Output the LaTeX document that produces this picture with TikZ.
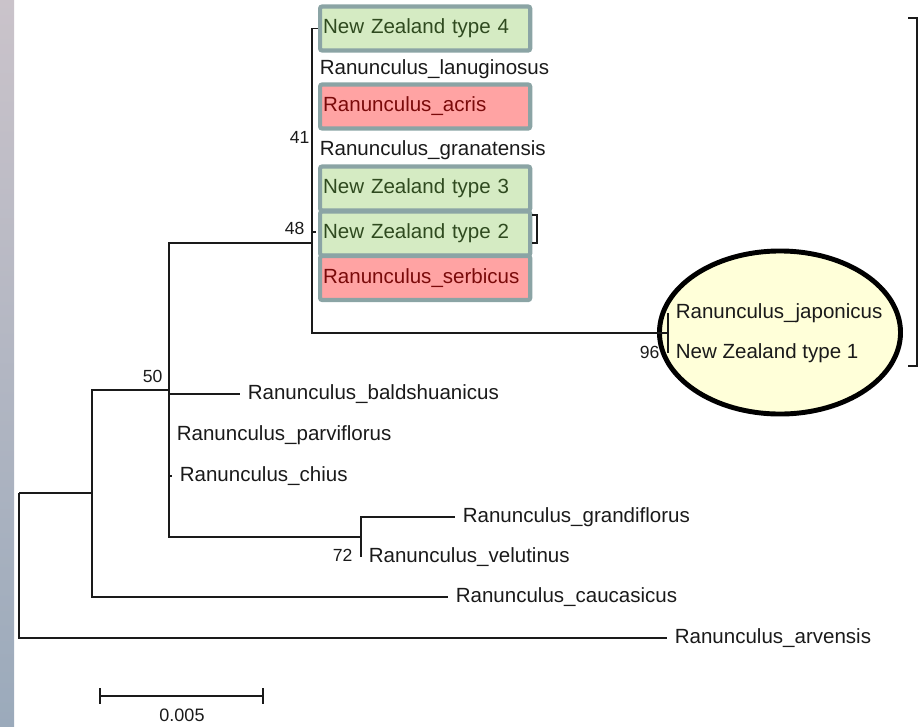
\documentclass[tikz,border=0pt]{standalone}
\usepackage{fontspec}
\setmainfont{Liberation Sans}
\usetikzlibrary{positioning}
\definecolor{treeblack}{HTML}{1A1A1A}
\definecolor{boxgreen}{HTML}{D5EBC3}
\definecolor{boxred}{HTML}{FFA3A3}
\definecolor{boxrim}{HTML}{8BA4A5}
\definecolor{textgreen}{HTML}{2F4A1F}
\definecolor{textred}{HTML}{7A0A0A}
\definecolor{ovalfill}{HTML}{FFFFD9}
\definecolor{striptop}{HTML}{CAC3CA}
\definecolor{stripmid}{HTML}{B7C2D2}
\definecolor{stripbot}{HTML}{9BAABB}

\begin{document}
\begin{tikzpicture}[x=0.025cm, y=-0.025cm, line width=0.85pt,
    leaf/.style={anchor=west, inner xsep=0.18cm, inner ysep=1pt, text=treeblack, font=\fontsize{14.6}{17}\selectfont},
    taxbox/.style={leaf, draw=boxrim, line width=3pt, rounded corners=1.5pt, inner xsep=0.075cm, text width=5.1cm, align=left, minimum height=1.1cm},
    nzbox/.style={taxbox, fill=boxgreen, text=textgreen},
    spbox/.style={taxbox, fill=boxred, text=textred},
    boot/.style={anchor=east, inner sep=0pt, text=treeblack, font=\fontsize{12.5}{14}\selectfont},
    branch/.style={draw=treeblack, line width=0.85pt},
    oval/.style={fill=ovalfill, draw=black, line width=3.5pt}]
  \useasboundingbox (0,0) rectangle (923,726);
  \shade[top color=striptop, middle color=stripmid, bottom color=stripbot] (0,0) rectangle (14,726);

  \draw[oval] (780,332.5) ellipse [x radius=3.0125cm, y radius=2.0375cm];

  \node[nzbox] (nzfour) at (318,28.5) {New Zealand type 4};
  \node[leaf] (lanug) at (312,69) {Ranunculus\_lanuginosus};
  \node[spbox] (acris) at (318,106.5) {Ranunculus\_acris};
  \node[leaf] (granat) at (312,150) {Ranunculus\_granatensis};
  \node[nzbox] (nzthree) at (318,188.5) {New Zealand type 3};
  \node[nzbox] (nztwo) at (318,233.5) {New Zealand type 2};
  \node[spbox] (serb) at (318,278) {Ranunculus\_serbicus};
  \node[leaf] (japo) at (668,313) {Ranunculus\_japonicus};
  \node[leaf] (nzone) at (668,353) {New Zealand type 1};
  \node[leaf] (bald) at (240,394) {Ranunculus\_baldshuanicus};
  \node[leaf] (parvi) at (169,435) {Ranunculus\_parviflorus};
  \node[leaf] (chius) at (172,476) {Ranunculus\_chius};
  \node[leaf] (grand) at (455,517) {Ranunculus\_grandiflorus};
  \node[leaf] (velu) at (361,557) {Ranunculus\_velutinus};
  \node[leaf] (cauc) at (448,597) {Ranunculus\_caucasicus};
  \node[leaf] (arv) at (667,638) {Ranunculus\_arvensis};

  \coordinate (root) at (19,493);
  \coordinate (nA) at (92,493);
  \coordinate (n50) at (169,390);
  \coordinate (n48) at (312,243);
  \coordinate (n41) at (316,232);
  \coordinate (n72) at (361,537);
  \coordinate (n96) at (668,333);

  \draw[branch] (root) -- (nA);
  \draw[branch] (root) |- (arv.west);
  \draw[branch] (nA) |- (n50);
  \draw[branch] (nA) |- (cauc.west);
  \draw[branch] (n50) |- (n48);
  \draw[branch] (n50) |- (bald.west);
  \draw[branch] (n50) |- (chius.west);
  \draw[branch] (n50) |- (n72);
  \draw[branch] (n72) |- (grand.west);
  \draw[branch] (n72) |- (velu.west);
  \draw[branch] (n48) |- (nzfour.west);
  \draw[branch] (n48) |- (n41);
  \draw[branch] (n48) |- (n96);
  \draw[branch] (n96) |- (japo.west);
  \draw[branch] (n96) |- (nzone.west);

  \node[boot] (bsfortyone) at (310,137) {41};
  \node[boot] (bsfortyeight) at (305,228) {48};
  \node[boot] (bsfifty) at (163,376) {50};
  \node[boot] (bsseventytwo) at (353,555) {72};
  \node[boot] (bsninetysix) at (660,352) {96};

  \draw[branch] (532,215) -- (537,215) -- (537,243) -- (532,243);
  \draw[branch] (908,18) -- (917,18) -- (917,366) -- (908,366);

  \coordinate (barL) at (100,696);
  \coordinate (barR) at (263,696);
  \draw[branch] (barL) -- (barR);
  \draw[branch] (100,688) -- (100,704);
  \draw[branch] (263,688) -- (263,704);
  \node[inner sep=0pt, text=treeblack, font=\fontsize{12.8}{15}\selectfont] (barlabel) at (182,715) {0.005};
\end{tikzpicture}
\end{document}
